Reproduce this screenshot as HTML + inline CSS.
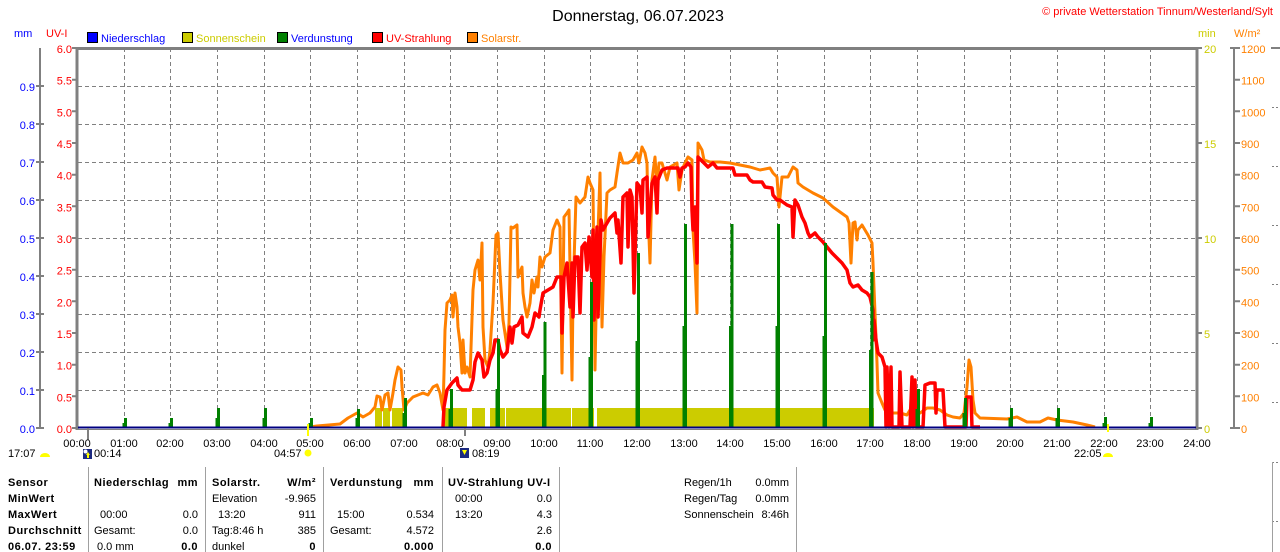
<!DOCTYPE html>
<html><head><meta charset="utf-8"><style>
html,body{margin:0;padding:0;background:#fff;width:1280px;height:552px;overflow:hidden}
svg{display:block}
text{font-family:"Liberation Sans",Arial,sans-serif;font-size:11px}
.b{font-weight:bold;letter-spacing:0.5px}
</style></head><body>
<svg width="1280" height="552" viewBox="0 0 1280 552" xmlns="http://www.w3.org/2000/svg">
<rect width="1280" height="552" fill="#fff"/>
<!-- title -->
<text x="638" y="21" text-anchor="middle" style="font-size:16px">Donnerstag, 06.07.2023</text>
<text x="1273" y="15" text-anchor="end" fill="#ff0000">© private Wetterstation Tinnum/Westerland/Sylt</text>
<!-- axis titles -->
<text x="14" y="37" fill="#0000ff">mm</text>
<text x="46" y="37" fill="#ff0000">UV-I</text>
<text x="1198" y="37" fill="#cccc00">min</text>
<text x="1234" y="37" fill="#ff8000">W/m²</text>
<!-- legend -->
<rect x="87.5" y="32.5" width="10" height="10" fill="#0000ff" stroke="#000"/>
<text x="101" y="42" fill="#0000ff">Niederschlag</text>
<rect x="182.5" y="32.5" width="10" height="10" fill="#cccc00" stroke="#000"/>
<text x="196" y="42" fill="#cccc00">Sonnenschein</text>
<rect x="277.5" y="32.5" width="10" height="10" fill="#008000" stroke="#000"/>
<text x="291" y="42" fill="#0000ff">Verdunstung</text>
<rect x="372.5" y="32.5" width="10" height="10" fill="#ff0000" stroke="#000"/>
<text x="386" y="42" fill="#ff0000">UV-Strahlung</text>
<rect x="467.5" y="32.5" width="10" height="10" fill="#ff8000" stroke="#000"/>
<text x="481" y="42" fill="#ff8000">Solarstr.</text>

<!-- grid -->
<g stroke="#808080" stroke-width="1" stroke-dasharray="4,3" fill="none">
<path d="M124.5 48V428M170.5 48V428M217.5 48V428M264.5 48V428M310.5 48V428M357.5 48V428M404.5 48V428M450.5 48V428M497.5 48V428M544.5 48V428M590.5 48V428M637.5 48V428M684.5 48V428M730.5 48V428M777.5 48V428M824.5 48V428M870.5 48V428M917.5 48V428M964.5 48V428M1010.5 48V428M1057.5 48V428M1104.5 48V428M1150.5 48V428"/>
<path d="M78 86.5H1197M78 124.5H1197M78 162.5H1197M78 200.5H1197M78 238.5H1197M78 276.5H1197M78 314.5H1197M78 352.5H1197M78 390.5H1197"/>
</g>

<!-- axes -->
<g stroke="#808080" stroke-width="2" fill="none">
<path d="M40 48V428"/>
<path d="M36 86H44M36 124H44M36 162H44M36 200H44M36 238H44M36 276H44M36 314H44M36 352H44M36 390H44M36 428H44"/>
<path d="M72 48H77M72 79.7H77M72 111.3H77M72 143H77M72 174.7H77M72 206.3H77M72 238H77M72 269.7H77M72 301.3H77M72 333H77M72 364.7H77M72 396.3H77M72 428H77"/>
<path d="M1197 48H1202M1197 143H1202M1197 238H1202M1197 333H1202M1197 428H1202"/>
<path d="M1234 48V428"/>
<path d="M1230 48H1240M1234 79.7H1240M1234 111.3H1240M1234 143H1240M1234 174.7H1240M1234 206.3H1240M1234 238H1240M1234 269.7H1240M1234 301.3H1240M1234 333H1240M1234 364.7H1240M1234 396.3H1240M1230 428H1240"/>
</g>
<g fill="#0000ff" text-anchor="end">
<text x="35" y="91">0.9</text><text x="35" y="129">0.8</text><text x="35" y="167">0.7</text><text x="35" y="205">0.6</text><text x="35" y="243">0.5</text><text x="35" y="281">0.4</text><text x="35" y="319">0.3</text><text x="35" y="357">0.2</text><text x="35" y="395">0.1</text><text x="35" y="433">0.0</text>
</g>
<g fill="#ff0000" text-anchor="end">
<text x="72" y="53">6.0</text><text x="72" y="84.7">5.5</text><text x="72" y="116.3">5.0</text><text x="72" y="148">4.5</text><text x="72" y="179.7">4.0</text><text x="72" y="211.3">3.5</text><text x="72" y="243">3.0</text><text x="72" y="274.7">2.5</text><text x="72" y="306.3">2.0</text><text x="72" y="338">1.5</text><text x="72" y="369.7">1.0</text><text x="72" y="401.3">0.5</text><text x="72" y="433">0.0</text>
</g>
<g fill="#cccc00">
<text x="1204" y="53">20</text><text x="1204" y="148">15</text><text x="1204" y="243">10</text><text x="1204" y="338">5</text><text x="1204" y="433">0</text>
</g>
<g fill="#ff8000">
<text x="1241" y="53">1200</text><text x="1241" y="84.7">1100</text><text x="1241" y="116.3">1000</text><text x="1241" y="148">900</text><text x="1241" y="179.7">800</text><text x="1241" y="211.3">700</text><text x="1241" y="243">600</text><text x="1241" y="274.7">500</text><text x="1241" y="306.3">400</text><text x="1241" y="338">300</text><text x="1241" y="369.7">200</text><text x="1241" y="401.3">100</text><text x="1241" y="433">0</text>
</g>
<!-- far right marks -->
<g stroke="#808080" stroke-width="1" stroke-dasharray="2,2" fill="none">
<path d="M1272 107.5H1280M1272 166.5H1280M1272 225.5H1280M1272 284.5H1280M1272 343.5H1280M1272 402.5H1280M1272 462.5H1280M1272 521.5H1280"/>
</g>
<path d="M1271 48H1280" stroke="#808080" stroke-width="2"/>

<!-- sunshine bars -->
<g fill="#cccc00">
<rect x="375" y="408" width="7" height="19"/><rect x="383" y="408" width="7" height="19"/><rect x="392" y="408" width="11" height="19"/>
<rect x="443" y="408" width="24" height="19"/><rect x="472" y="408" width="13" height="19"/><rect x="490" y="408" width="15" height="19"/>
<rect x="506" y="408" width="65" height="19"/><rect x="572" y="408" width="22" height="19"/><rect x="597" y="408" width="277" height="19"/>
</g>

<!-- solar line -->
<polyline fill="none" stroke="#ff8000" stroke-width="3" stroke-linejoin="round" points="310,427 317,426 340,424 348,418 357,413 363,417 370,413 375,407 377,396 380,397 382,410 385,395 388,393 390,410 393,393 395,380 398,367 401,370 402,387 404,410 407,403 413,397 423,393 428,395 433,387 437,385 440,393 443,410 444,373 445,330 447,303 450,300 452,295 453,317 455,293 457,307 458,327 460,343 462,373 463,340 465,373 467,367 470,377 473,290 475,270 478,260 480,280 482,243 483,327 485,360 488,367 490,350 493,303 496,235 498,233 500,273 503,320 507,347 509,323 511,227 513,228 517,225 518,277 522,267 523,293 525,307 527,317 530,303 532,280 534,293 537,277 538,287 540,257 542,267 545,257 550,253 553,230 557,220 560,227 562,373 564,217 567,213 569,210 572,380 573,297 576,197 580,203 585,197 588,177 590,183 593,190 595,370 597,263 600,173 602,327 604,257 607,193 610,190 615,187 617,173 620,153 623,163 628,163 633,160 637,153 639,163 642,147 645,153 647,163 648,213 650,263 652,180 655,157 657,187 659,163 662,163 667,180 670,167 677,163 679,190 682,170 685,163 688,157 692,160 693,230 695,263 697,313 698,143 702,150 704,160 710,162 720,162 730,163 740,165 750,167 760,170 770,168 773,173 777,177 779,207 782,177 788,177 793,167 797,170 798,183 803,187 813,193 823,198 833,207 840,212 847,217 849,223 851,263 853,223 855,222 857,240 858,230 862,225 865,230 868,235 872,243 873,263 875,313 877,363 878,393 882,403 885,410 890,413 900,413 907,415 910,410 913,410 920,413 927,408 933,408 940,410 947,415 953,417 960,418 964,413 967,387 969,360 971,367 973,400 975,413 980,418 1007,419 1017,417 1027,422 1040,422 1048,418 1057,420 1073,422 1087,425 1095,427"/>

<!-- UV line -->
<polyline fill="none" stroke="#ff0000" stroke-width="3.5" stroke-linejoin="round" points="443,427 444,407 447,390 452,383 457,378 458,385 462,390 470,390 473,380 475,362 478,353 482,360 484,377 487,373 490,360 493,353 495,340 498,340 500,350 503,357 507,352 510,327 512,343 514,327 518,325 522,317 523,333 528,337 532,327 535,313 539,317 540,310 543,293 548,290 553,287 557,277 561,277 562,333 564,277 567,263 570,307 572,263 573,317 575,257 578,257 580,313 582,247 585,243 587,270 589,237 592,277 593,230 594,320 597,227 598,317 601,220 603,230 607,223 610,218 615,213 617,233 618,220 621,263 623,197 627,193 628,247 630,190 632,197 634,293 637,183 640,187 642,213 643,180 647,177 648,237 652,183 655,177 657,213 658,180 662,170 667,168 673,168 678,168 680,177 682,168 685,167 688,163 691,167 692,210 693,230 695,207 697,263 698,157 703,162 708,167 713,163 717,168 733,168 735,175 747,175 750,180 753,182 762,182 765,187 772,188 773,195 777,200 780,200 787,205 792,207 793,237 795,200 798,205 802,217 805,223 808,233 810,237 815,233 818,237 823,242 827,247 832,253 837,258 842,263 847,270 850,283 853,287 858,285 862,290 867,293 870,297 873,310 873,340 874,320 876,340 878,353 882,357 885,367 886,427 887,367 889,427 891,367 892,427 899,427 900,372 902,427 910,427 912,377 913,427 915,380 916,427 923,427 925,385 930,383 935,383 936,413 937,390 943,390 945,427 966,427 967,397 971,397 972,427 980,427"/>

<!-- evaporation bars -->
<g fill="#008000">
<rect x="122.5" y="423" width="2" height="5"/><rect x="124" y="418" width="3" height="10"/>
<rect x="168.5" y="423" width="2" height="5"/><rect x="170" y="418" width="3" height="10"/>
<rect x="215.5" y="418" width="2" height="10"/><rect x="217" y="408" width="3" height="20"/>
<rect x="262.5" y="418" width="2" height="10"/><rect x="264" y="408" width="3" height="20"/>
<rect x="308.5" y="423" width="2" height="5"/><rect x="310" y="418" width="3" height="10"/>
<rect x="355.5" y="418" width="2" height="10"/><rect x="357" y="409" width="3" height="19"/>
<rect x="402.5" y="413" width="2" height="15"/><rect x="404" y="398" width="3" height="30"/>
<rect x="448.5" y="409" width="2" height="19"/><rect x="450" y="389" width="3" height="39"/>
<rect x="495.5" y="389" width="2" height="39"/><rect x="497" y="339" width="3" height="89"/>
<rect x="542" y="375" width="2" height="53"/><rect x="543.5" y="322" width="3" height="106"/>
<rect x="588.5" y="357" width="2" height="71"/><rect x="590" y="282" width="3" height="146"/>
<rect x="635.5" y="341" width="2" height="87"/><rect x="637" y="253" width="3" height="175"/>
<rect x="682.5" y="326" width="2" height="102"/><rect x="684" y="224" width="3" height="204"/>
<rect x="729" y="326" width="2" height="102"/><rect x="730.5" y="224" width="3" height="204"/>
<rect x="775.5" y="326" width="2" height="102"/><rect x="777" y="224" width="3" height="204"/>
<rect x="822.5" y="336" width="2" height="92"/><rect x="824" y="243" width="3" height="185"/>
<rect x="869" y="350" width="2" height="78"/><rect x="870.5" y="272" width="3" height="156"/>
<rect x="915.5" y="409" width="2" height="19"/><rect x="917" y="389" width="3" height="39"/>
<rect x="962.5" y="413" width="2" height="15"/><rect x="964" y="398" width="3" height="30"/>
<rect x="1008.5" y="418" width="2" height="10"/><rect x="1010" y="408" width="3" height="20"/>
<rect x="1055.5" y="418" width="2" height="10"/><rect x="1057" y="408" width="3" height="20"/>
<rect x="1102.5" y="423" width="2" height="5"/><rect x="1104" y="417" width="3" height="11"/>
<rect x="1148.5" y="423" width="2" height="5"/><rect x="1150" y="417" width="3" height="11"/>
</g>

<!-- frame -->
<path d="M76 48.5H1198" stroke="#808080" stroke-width="3"/>
<path d="M77 47V430" stroke="#808080" stroke-width="3"/>
<path d="M1197 47V430" stroke="#808080" stroke-width="3"/>
<path d="M77 429.5H1197" stroke="#808080" stroke-width="1"/>
<path d="M78 427.5H1196" stroke="#000080" stroke-width="2"/>

<!-- markers below axis -->
<path d="M88 428V440" stroke="#808080" stroke-width="2"/>
<path d="M465 428V436" stroke="#808080" stroke-width="2"/>
<path d="M308 424V436" stroke="#ffff00" stroke-width="2"/>
<path d="M1108 424V432" stroke="#ffff00" stroke-width="2"/>

<!-- hour labels -->
<g text-anchor="middle">
<text x="77" y="447">00:00</text><text x="124" y="447">01:00</text><text x="170" y="447">02:00</text><text x="217" y="447">03:00</text><text x="264" y="447">04:00</text><text x="310" y="447">05:00</text><text x="357" y="447">06:00</text><text x="404" y="447">07:00</text><text x="450" y="447">08:00</text><text x="497" y="447">09:00</text><text x="544" y="447">10:00</text><text x="590" y="447">11:00</text><text x="637" y="447">12:00</text><text x="684" y="447">13:00</text><text x="730" y="447">14:00</text><text x="777" y="447">15:00</text><text x="824" y="447">16:00</text><text x="870" y="447">17:00</text><text x="917" y="447">18:00</text><text x="964" y="447">19:00</text><text x="1010" y="447">20:00</text><text x="1057" y="447">21:00</text><text x="1104" y="447">22:00</text><text x="1150" y="447">23:00</text><text x="1197" y="447">24:00</text>
</g>
<!-- sun/moon events -->
<text x="8" y="457">17:07</text>
<path d="M40 457A5 4 0 0 1 50 457Z" fill="#ffff00"/>
<rect x="83" y="449" width="9" height="10" fill="#1c2a80"/>
<circle cx="85.5" cy="451.5" r="2" fill="#fff"/>
<path d="M88 452L90 455H89V458H87V455H86Z" fill="#ffff00"/>
<text x="94" y="457">00:14</text>
<text x="274" y="457">04:57</text>
<circle cx="308" cy="453" r="3.5" fill="#ffff00"/>
<rect x="460" y="448" width="9" height="10" fill="#1c2a80"/>
<path d="M462 450H467L464.5 455Z" fill="#ffff00"/>
<text x="472" y="457">08:19</text>
<text x="1074" y="457">22:05</text>
<path d="M1103 457A5 4 0 0 1 1113 457Z" fill="#ffff00"/>

<!-- table separators -->
<g stroke="#a0a0a0" stroke-width="1">
<path d="M88.5 467V552M205.5 467V552M323.5 467V552M442.5 467V552M559.5 467V552M796.5 467V552M1272.5 462V552"/>
</g>
<!-- table text -->
<g>
<text class="b" x="8" y="486">Sensor</text>
<text class="b" x="8" y="502">MinWert</text>
<text class="b" x="8" y="518">MaxWert</text>
<text class="b" x="8" y="534">Durchschnitt</text>
<text class="b" x="8" y="550">06.07. 23:59</text>
<text class="b" x="94" y="486">Niederschlag</text>
<text class="b" x="198" y="486" text-anchor="end">mm</text>
<text class="b" x="212" y="486">Solarstr.</text>
<text class="b" x="316" y="486" text-anchor="end">W/m²</text>
<text class="b" x="330" y="486">Verdunstung</text>
<text class="b" x="434" y="486" text-anchor="end">mm</text>
<text class="b" x="448" y="486">UV-Strahlung UV-I</text>
<text class="b" x="198" y="550" text-anchor="end">0.0</text>
<text class="b" x="316" y="550" text-anchor="end">0</text>
<text class="b" x="434" y="550" text-anchor="end">0.000</text>
<text class="b" x="552" y="550" text-anchor="end">0.0</text>
</g>
<text x="100" y="518">00:00</text><text x="198" y="518" text-anchor="end">0.0</text>
<text x="94" y="534">Gesamt:</text><text x="198" y="534" text-anchor="end">0.0</text>
<text x="97" y="550">0.0 mm</text>
<text x="212" y="502">Elevation</text><text x="316" y="502" text-anchor="end">-9.965</text>
<text x="218" y="518">13:20</text><text x="316" y="518" text-anchor="end">911</text>
<text x="212" y="534">Tag:8:46 h</text><text x="316" y="534" text-anchor="end">385</text>
<text x="212" y="550">dunkel</text>
<text x="337" y="518">15:00</text><text x="434" y="518" text-anchor="end">0.534</text>
<text x="330" y="534">Gesamt:</text><text x="434" y="534" text-anchor="end">4.572</text>
<text x="455" y="502">00:00</text><text x="552" y="502" text-anchor="end">0.0</text>
<text x="455" y="518">13:20</text><text x="552" y="518" text-anchor="end">4.3</text>
<text x="552" y="534" text-anchor="end">2.6</text>
<text x="684" y="486">Regen/1h</text><text x="789" y="486" text-anchor="end">0.0mm</text>
<text x="684" y="502">Regen/Tag</text><text x="789" y="502" text-anchor="end">0.0mm</text>
<text x="684" y="518">Sonnenschein</text><text x="789" y="518" text-anchor="end">8:46h</text>
</svg>
</body></html>
